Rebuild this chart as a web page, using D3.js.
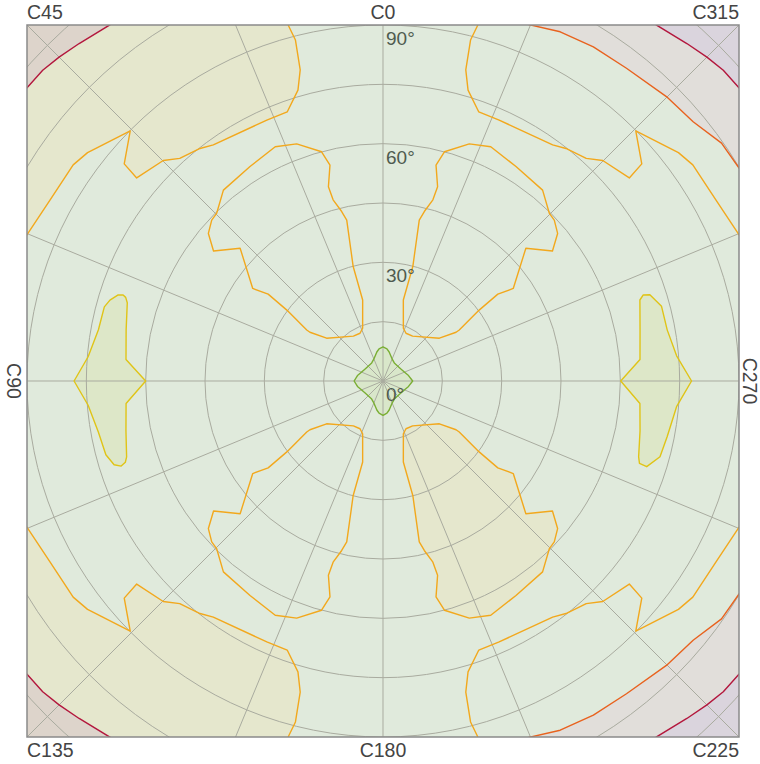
<!DOCTYPE html>
<html><head><meta charset="utf-8">
<script src="https://cdn.jsdelivr.net/npm/d3@7"></script>
<style>body{margin:0;background:#fff}</style>
</head><body>
<svg id="chart" width="760" height="764"></svg>
<script>
// ---- data (C angle in degrees, gamma in degrees) ----
const cLabels = ["C0","C45","C90","C135","C180","C225","C270","C315"];
const gammaTicks = [0, 30, 60, 90];
const gammaCircles = [15, 30, 45, 60, 75, 90, 105, 120];
const radialAngles = [0,22.5,45,67.5,90,112.5,135,157.5,180,202.5,225,247.5,270,292.5,315,337.5];

// innermost (green) contour
const greenContour = [[0,8.6],[7,8.2],[12,7.5],[17,6.7],[24,5.9],[32,5.4],[45,5.3],[58,5.5],[68,5.9],[78,6.6],[90,7.3],
  [102,6.6],[112,5.9],[122,5.5],[135,5.3],[148,5.4],[156,5.9],[163,6.7],[168,7.5],[173,8.2],[180,8.7],
  [187,8.2],[192,7.5],[197,6.7],[204,5.9],[212,5.4],[225,5.3],[238,5.5],[248,5.9],[258,6.6],[270,7.5],
  [282,6.6],[292,5.9],[302,5.5],[315,5.3],[328,5.4],[336,5.9],[343,6.7],[348,7.5],[353,8.2]];

// yellow lobes
const lobeC90 = [[90,60.0],[85.2,65.2],[78.8,66.2],[73,67.6],[72,68.4],[71.7,69.2],[72,70.4],[73.5,72.0],[75.1,72.9],
  [79.8,73.1],[85.3,74.8],[90,78.1],[94.7,74.8],[100.2,73.1],[104.9,72.5],[107.3,71.2],[108,69.6],[107.5,68.3],
  [106.5,67.6],[101,66.2],[95,65.2]];
const lobeC270 = [[270,60.1],[274.8,65.2],[281,66.2],[287.5,68.1],[288.3,69.3],[287.9,70.9],[285,72.9],[280.2,73.0],
  [274.9,74.5],[270,78.0],[265,74.5],[258.9,73.2],[254.7,72.6],[252,70.1],[252.2,68.1],[253.5,67.4],[259,66.2],[265,65.2]];

// orange contour, upper-left quadrant pieces
const innerLoopUL = [[21.1,14.3],[25.7,13.4],[33.4,13.6],[52.8,17.9],[56.3,22.2],[56.2,23.2],[53.6,30.2],[52.9,36.4],
  [54.6,40.4],[47.1,49.3],[52.5,54.0],[49.8,57.8],[46.8,59.4],[44.8,59.7],[39.9,62.9],[31.8,63.8],[24.7,65.2],
  [20.0,63.8],[15.0,60.0],[13.8,56.2],[15.7,51.0],[15.4,47.5],[13.7,44.1],[12.7,41.7],[14.6,29.9],[14.1,21.1]];
const outerOrangeUL = [[14.6,97],[14.9,93.0],[14.4,89.0],[14.9,81.4],[16.3,76.6],[19.6,72.2],[24.0,72.2],[35.7,73.5],
  [38.2,74.8],[42.4,76.2],[44.9,78.7],[50.5,80.7],[50.0,85.4],[45.3,89.9],[52.3,94.4],[55.1,95.5],[61.5,95.8],
  [67.7,97.3],[70,99]];
// orange-red contour (upper-right corner)
const orangeRedUR = [[340,97],[337.6,97.4],[333.1,99.0],[327.8,99.8],[322.1,100.2],[315.1,101.5],[309.9,102.2],
  [305.1,104.6],[300.8,104.9],[297,106]];
// dark red contour (upper-right corner)
const darkRedUR = [[326,113],[322.4,113.5],[318,114.8],[315,115.8],[312.4,116.5],[309.4,116.6],[305,117]];

// quadrant mirroring of the measured pieces (chart is symmetric about both axes)
const mirrorUL = {UL: c => c, UR: c => 360 - c, LL: c => 180 - c, LR: c => 180 + c};
const mirrorUR = {UR: c => c, LR: c => 540 - c, UL: c => 360 - c, LL: c => c - 180};

const colors = {
  bg: "#e0eadc", yellowFill: "#e5e7cd", brownFill: "#ddd4cb", grayFill: "#e1deda", purpleFill: "#dad4dd",
  centerFill: "#d9e7ca", lobeFill: "#dde7c8",
  green: "#7aae34", yellow: "#e0c417", orange: "#f2a81d", orangeRed: "#e8621e", darkRed: "#b3173d",
  grid: "#a9ab9f", border: "#8a8a8a", cText: "#444444", gText: "#4f5b4f"
};

// ---- layout ----
const cx = 383, cy = 381, R90 = 356;
const svg = d3.select("#chart");
const r = d3.scaleLinear().domain([0, 90]).range([0, R90]);
const ang = d3.scaleLinear().domain([0, 360]).range([0, -2 * Math.PI]);

const closed = d3.lineRadial().angle(d => ang(d[0])).radius(d => r(d[1])).curve(d3.curveLinearClosed);
const open = d3.lineRadial().angle(d => ang(d[0])).radius(d => r(d[1])).curve(d3.curveLinear);

svg.append("defs").append("clipPath").attr("id", "plotClip")
  .append("rect").attr("x", -R90).attr("y", -R90).attr("width", 2 * R90).attr("height", 2 * R90);

const g = svg.append("g").attr("transform", `translate(${cx},${cy})`).attr("clip-path", "url(#plotClip)");

g.append("rect").attr("x", -R90).attr("y", -R90).attr("width", 2 * R90).attr("height", 2 * R90).attr("fill", colors.bg);

const FAR = 150;
function farRegion(line) {
  const first = line[0][0], last = line[line.length - 1][0];
  const mid = (first + last) / 2;
  return line.concat([[last, FAR], [mid, FAR], [first, FAR]]);
}
const mapC = (arr, f) => arr.map(d => [f(d[0]), d[1]]);

// yellow corner regions beyond outer orange (C45 & C135 corners)
["UL", "LL"].forEach(q => {
  g.append("path").attr("d", closed(farRegion(mapC(outerOrangeUL, mirrorUL[q])))).attr("fill", colors.yellowFill);
});
// brown beyond dark red (C45 & C135)
["UL", "LL"].forEach(q => {
  g.append("path").attr("d", closed(farRegion(mapC(darkRedUR, mirrorUR[q])))).attr("fill", colors.brownFill);
});
// gray beyond orange-red, purple beyond dark red (C315 & C225)
["UR", "LR"].forEach(q => {
  g.append("path").attr("d", closed(farRegion(mapC(orangeRedUR, mirrorUR[q])))).attr("fill", colors.grayFill);
  g.append("path").attr("d", closed(farRegion(mapC(darkRedUR, mirrorUR[q])))).attr("fill", colors.purpleFill);
});
// filled inner loop (lower-right)
g.append("path").attr("d", closed(mapC(innerLoopUL, mirrorUL.LR))).attr("fill", colors.yellowFill);
// lobes and centre
g.append("path").attr("d", closed(lobeC90)).attr("fill", colors.lobeFill);
g.append("path").attr("d", closed(lobeC270)).attr("fill", colors.lobeFill);
g.append("path").attr("d", closed(greenContour)).attr("fill", colors.centerFill);

// grid
g.selectAll("circle.grid").data(gammaCircles).join("circle").attr("class", "grid")
  .attr("r", d => r(d)).attr("fill", "none").attr("stroke", colors.grid).attr("stroke-width", 1);
g.selectAll("path.spoke").data(radialAngles).join("path").attr("class", "spoke")
  .attr("d", d => open([[d, 0], [d, 140]])).attr("stroke", colors.grid).attr("stroke-width", 1);

// contour lines
const lineStyle = (sel, col) => sel.attr("fill", "none").attr("stroke", col).attr("stroke-width", 1.4).attr("stroke-linejoin", "round");
["UL", "UR", "LL", "LR"].forEach(q => {
  lineStyle(g.append("path").attr("d", closed(mapC(innerLoopUL, mirrorUL[q]))), colors.orange);
  lineStyle(g.append("path").attr("d", open(mapC(outerOrangeUL, mirrorUL[q]))), colors.orange);
});
["UR", "LR"].forEach(q => {
  lineStyle(g.append("path").attr("d", open(mapC(orangeRedUR, mirrorUR[q]))), colors.orangeRed);
});
["UR", "LR", "UL", "LL"].forEach(q => {
  lineStyle(g.append("path").attr("d", open(mapC(darkRedUR, mirrorUR[q]))), colors.darkRed);
});
lineStyle(g.append("path").attr("d", closed(lobeC90)), colors.yellow);
lineStyle(g.append("path").attr("d", closed(lobeC270)), colors.yellow);
lineStyle(g.append("path").attr("d", closed(greenContour)), colors.green);

// gamma labels
g.selectAll("text.gl").data(gammaTicks).join("text").attr("class", "gl")
  .attr("x", 3).attr("y", d => -r(d) + 20)
  .attr("font-family", "Liberation Sans, Arial, sans-serif").attr("font-size", 19)
  .attr("fill", colors.gText).text(d => d + "°");

// border
svg.append("rect").attr("x", cx - R90).attr("y", cy - R90).attr("width", 2 * R90).attr("height", 2 * R90)
  .attr("fill", "none").attr("stroke", colors.border).attr("stroke-width", 1.5);

// C labels
const L = cx - R90, Rr = cx + R90, T = cy - R90, B = cy + R90;
const cPos = {
  "C0": {x: cx, y: T - 6, a: "middle"}, "C45": {x: L, y: T - 6, a: "start"}, "C315": {x: Rr, y: T - 6, a: "end"},
  "C135": {x: L, y: B + 20, a: "start"}, "C180": {x: cx, y: B + 20, a: "middle"}, "C225": {x: Rr, y: B + 20, a: "end"},
  "C90": {x: 7, y: cy, a: "middle", rot: 90}, "C270": {x: 743, y: cy, a: "middle", rot: 90}
};
svg.selectAll("text.cl").data(cLabels).join("text").attr("class", "cl")
  .attr("transform", d => `translate(${cPos[d].x},${cPos[d].y})` + (cPos[d].rot ? ` rotate(${cPos[d].rot})` : ""))
  .attr("text-anchor", d => cPos[d].a)
  .attr("font-family", "Liberation Sans, Arial, sans-serif").attr("font-size", 19.5)
  .attr("fill", colors.cText).text(d => d);
</script>
</body></html>
